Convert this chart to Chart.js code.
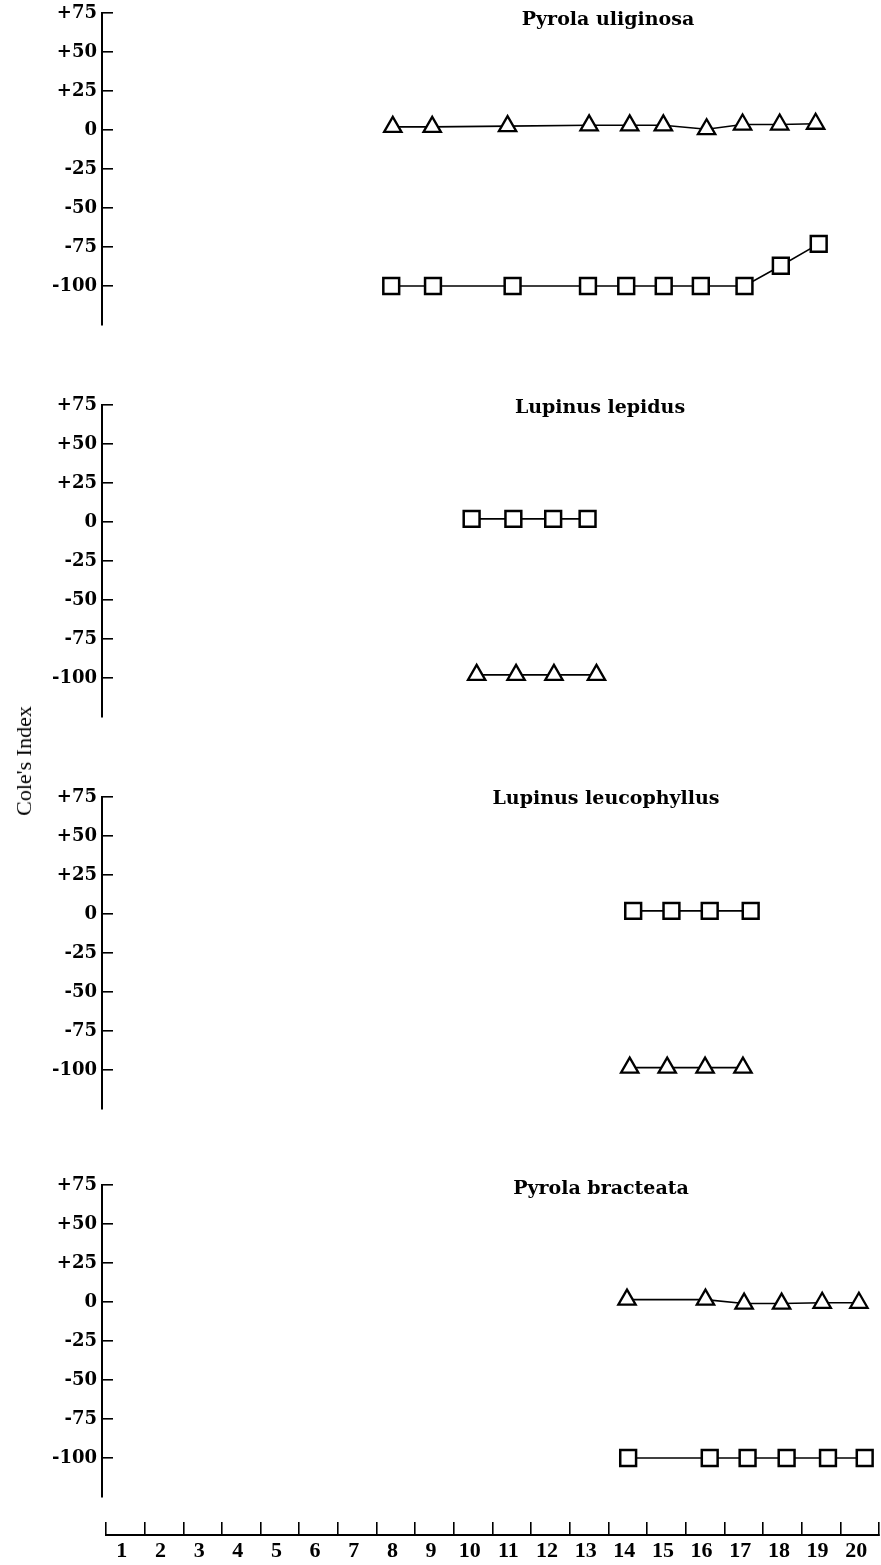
<!DOCTYPE html>
<html>
<head>
<meta charset="utf-8">
<script src="https://cdn.jsdelivr.net/npm/chart.js@4.4.1/dist/chart.umd.min.js"></script>
<style>
  html, body { margin: 0; padding: 0; background: #fff; }
  #figure { position: relative; width: 881px; height: 1565px; overflow: hidden; background: #fff; }
  #figure canvas { position: absolute; left: 0; }
  .species {
    position: absolute; transform: translateX(-50%); white-space: nowrap;
    font-family: 'DejaVu Serif', serif; font-weight: bold; font-size: 19px; line-height: 1; color: #000;
  }
  #ytitle {
    position: absolute; left: 24px; top: 761px; white-space: nowrap;
    transform: translate(-50%, -50%) rotate(-90deg);
    font-family: 'Liberation Serif', serif; font-size: 22px; line-height: 1; color: #000;
  }
</style>
</head>
<body>
<div id="figure">
  <canvas id="p1" width="921" height="372" style="top:-17px"></canvas>
  <canvas id="p2" width="921" height="372" style="top:374.5px"></canvas>
  <canvas id="p3" width="921" height="372" style="top:767px"></canvas>
  <canvas id="p4" width="921" height="372" style="top:1154.5px"></canvas>
  <canvas id="xaxis" width="921" height="70" style="top:1495px"></canvas>
  <div class="species" style="left:608px; top:9px">Pyrola uliginosa</div>
  <div class="species" style="left:600px; top:397px">Lupinus lepidus</div>
  <div class="species" style="left:606px; top:788px">Lupinus leucophyllus</div>
  <div class="species" style="left:601px; top:1178px">Pyrola bracteata</div>
  <div id="ytitle">Cole's Index</div>
</div>
<script>
// Sampling days along the shared horizontal axis
const days = ['1','2','3','4','5','6','7','8','9','10','11','12','13','14','15','16','17','18','19','20'];
// Cole's index tick values, shared by every panel
const indexTicks = [75, 50, 25, 0, -25, -50, -75, -100];

// Pyrola uliginosa
const uliginosaTriDays = [7.92, 8.94, 10.89, 13.0, 14.05, 14.92, 16.04, 16.97, 17.93, 18.86];
const uliginosaTriIndex = [2, 2, 2.5, 3, 3, 3, 0.5, 3.5, 3.5, 4];
const uliginosaSqDays = [7.88, 8.96, 11.02, 12.97, 13.96, 14.93, 15.89, 17.02, 17.96, 18.94];
const uliginosaSqIndex = [-100, -100, -100, -100, -100, -100, -100, -100, -87, -73];

// Lupinus lepidus
const lepidusSqDays = [9.96, 11.04, 12.07, 12.96];
const lepidusSqIndex = [2, 2, 2, 2];
const lepidusTriDays = [10.09, 11.11, 12.09, 13.19];
const lepidusTriIndex = [-98, -98, -98, -98];

// Lupinus leucophyllus
const leucophyllusSqDays = [14.14, 15.13, 16.12, 17.18];
const leucophyllusSqIndex = [2, 2, 2, 2];
const leucophyllusTriDays = [14.05, 15.02, 16.0, 16.98];
const leucophyllusTriIndex = [-98.5, -98.5, -98.5, -98.5];

// Pyrola bracteata
const bracteataTriDays = [13.98, 16.01, 17.01, 17.98, 19.03, 19.98];
const bracteataTriIndex = [1.5, 1.5, -1, -1, -0.5, -0.5];
const bracteataSqDays = [14.01, 16.12, 17.10, 18.11, 19.18, 20.13];
const bracteataSqIndex = [-100, -100, -100, -100, -100, -100];

// Horizontal layout shared by the panels and the day axis
const AXIS_LEFT = 106;     // left end of the day axis
const PANEL_LEFT = 102;    // vertical axis line of each panel
const PLOT_RIGHT = 879;
const CANVAS_W = 921;      // wider than the page; the overflow is cut off
const dayWidth = (PLOT_RIGHT - AXIS_LEFT) / days.length;
const panelDayMin = 0.5 - (AXIS_LEFT - PANEL_LEFT) / dayWidth;
const dayMax = days.length + 0.5;
const PAD_V = 30;          // room above and below each plot area

const INK = '#000';

function series(xs, ys, style) {
  const tri = style === 'triangle';
  return {
    data: xs.map((x, i) => ({ x: x, y: ys[i] })),
    borderColor: INK,
    borderWidth: 1.6,
    tension: 0,
    pointStyle: tri ? 'triangle' : 'rect',
    pointRadius: tri ? 10 : 11.2,
    pointBorderWidth: tri ? 2.3 : 2.5,
    pointBorderColor: INK,
    pointBackgroundColor: '#fff',
    clip: false
  };
}

function panel(id, sets) {
  return new Chart(document.getElementById(id), {
    type: 'line',
    data: { datasets: sets },
    options: {
      responsive: false,
      animation: false,
      events: [],
      layout: { padding: { top: PAD_V, bottom: PAD_V, left: 0, right: CANVAS_W - PLOT_RIGHT } },
      plugins: { legend: { display: false }, tooltip: { enabled: false } },
      scales: {
        x: { type: 'linear', min: panelDayMin, max: dayMax, display: false },
        y: {
          type: 'linear', min: -125, max: 75,
          afterBuildTicks: s => { s.ticks = indexTicks.map(v => ({ value: v })); },
          afterFit: s => { s.width = PANEL_LEFT; },
          border: { display: true, color: INK, width: 2 },
          grid: { display: true, drawOnChartArea: false, drawTicks: true, tickLength: -11, color: INK, lineWidth: 1.6 },
          ticks: {
            color: INK, padding: 16,
            font: { family: "'DejaVu Serif', serif", weight: 'bold', size: 18 },
            callback: v => (v > 0 ? '+' + v : String(v))
          }
        }
      }
    }
  });
}

panel('p1', [
  series(uliginosaTriDays, uliginosaTriIndex, 'triangle'),
  series(uliginosaSqDays, uliginosaSqIndex, 'rect')
]);
panel('p2', [
  series(lepidusSqDays, lepidusSqIndex, 'rect'),
  series(lepidusTriDays, lepidusTriIndex, 'triangle')
]);
panel('p3', [
  series(leucophyllusSqDays, leucophyllusSqIndex, 'rect'),
  series(leucophyllusTriDays, leucophyllusTriIndex, 'triangle')
]);
panel('p4', [
  series(bracteataTriDays, bracteataTriIndex, 'triangle'),
  series(bracteataSqDays, bracteataSqIndex, 'rect')
]);

// Shared day axis along the bottom
new Chart(document.getElementById('xaxis'), {
  type: 'line',
  data: { labels: days, datasets: [] },
  options: {
    responsive: false,
    animation: false,
    events: [],
    layout: { padding: { top: 0, bottom: 0, left: AXIS_LEFT, right: CANVAS_W - PLOT_RIGHT } },
    plugins: { legend: { display: false }, tooltip: { enabled: false } },
    scales: {
      x: {
        type: 'category', position: 'bottom', offset: true,
        afterFit: s => { s.height = 30; },
        border: { display: true, color: INK, width: 2 },
        grid: { offset: true, drawOnChartArea: false, drawTicks: true, tickLength: -13, color: INK, lineWidth: 1.6 },
        ticks: {
          color: INK, padding: 16, labelOffset: -3.5, maxRotation: 0, autoSkip: false,
          font: { family: "'Liberation Serif', serif", weight: 'bold', size: 22 }
        }
      },
      y: { display: false }
    }
  }
});
</script>
</body>
</html>
